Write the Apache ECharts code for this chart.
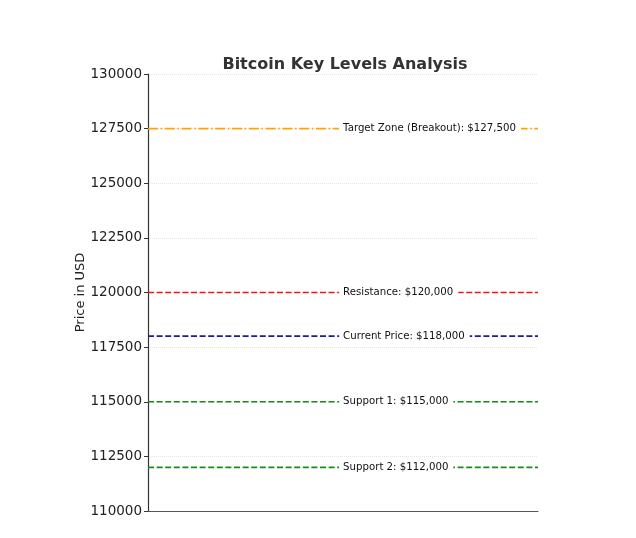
<!DOCTYPE html>
<html>
<head>
<meta charset="utf-8">
<script src="https://cdn.jsdelivr.net/npm/echarts@6/dist/echarts.min.js"></script>
<style>
  html, body { margin: 0; padding: 0; background: #fff; }
  #chart { width: 636px; height: 538px; }
</style>
</head>
<body>
<div id="chart"></div>
<script>
// key levels
var levelNames = ['Target Zone (Breakout)', 'Resistance', 'Current Price', 'Support 1', 'Support 2'];
var levelValues = [127500, 120000, 118000, 115000, 112000];
var levelColors = ['#ffa500', '#e8191b', '#1a1aa6', '#1a8a1a', '#1a8a1a'];
var yTicks = [110000, 130000, 2500];

var myChart = echarts.init(document.getElementById('chart'));

function fmt(v) {
    return '$' + v.toString().replace(/\B(?=(\d{3})+(?!\d))/g, ',');
}

var series = [];
levelValues.forEach(function(v, i) {
    series.push({
        type: 'line',
        data: [[0, v], [1, v]],
        symbol: 'none',
        z: 2,
        silent: true,
        lineStyle: {
            color: levelColors[i],
            width: 1.7,
            type: i === 0 ? [10, 2.6, 1.6, 2.6] : [6, 2.6]
        }
    });
    // label box sits on the line, white background breaks the dash
    series.push({
        type: 'scatter',
        data: [[0.49, v]],
        symbolSize: 0,
        itemStyle: { color: '#fff', opacity: 1 },
        z: 10,
        silent: true,
        label: {
            show: true,
            position: 'right',
            distance: 0,
            formatter: levelNames[i] + ': ' + fmt(v),
            color: '#111',
            fontSize: 10.2,
            fontFamily: 'DejaVu Sans',
            backgroundColor: '#fff',
            padding: [2, 5, 2, 4]
        }
    });
});

var option = {
    animation: false,
    title: {
        text: 'Bitcoin Key Levels Analysis',
        left: 340,
        textAlign: 'center',
        top: 52,
        textStyle: { fontSize: 16, fontWeight: 'bold', color: '#333', fontFamily: 'DejaVu Sans' }
    },
    grid: { left: 148, right: 98, top: 74, bottom: 27 },
    xAxis: {
        type: 'value',
        min: 0,
        max: 1,
        axisLine: { show: true, lineStyle: { color: '#555', width: 1.2 } },
        axisTick: { show: false },
        axisLabel: { show: false },
        splitLine: { show: false }
    },
    yAxis: {
        type: 'value',
        min: yTicks[0],
        max: yTicks[1],
        interval: yTicks[2],
        name: 'Price in USD',
        nameLocation: 'middle',
        nameGap: 61,
        nameMoveOverlap: false,
        nameTextStyle: { fontSize: 13, color: '#222', fontFamily: 'DejaVu Sans' },
        axisLine: { show: true, lineStyle: { color: '#333', width: 1.2 } },
        axisTick: { show: true, length: 4, lineStyle: { color: '#333' } },
        axisLabel: {
            fontSize: 13.5, color: '#222', fontFamily: 'DejaVu Sans', margin: 6,
            formatter: function(v) { return String(v); }
        },
        splitLine: { show: true, lineStyle: { color: '#e6e6e6', type: 'dotted', width: 1 } }
    },
    series: series
};
myChart.setOption(option);
</script>
</body>
</html>
